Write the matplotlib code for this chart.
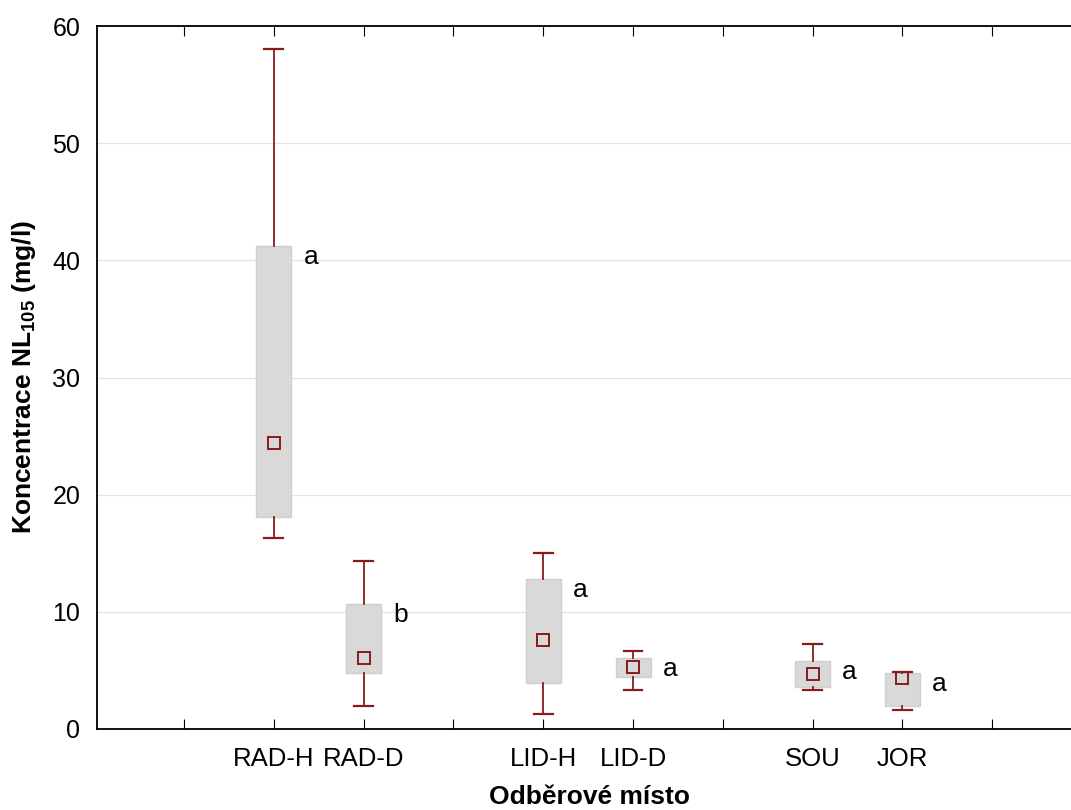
import matplotlib.pyplot as plt

plt.rcParams['font.family'] = ['Liberation Sans', 'DejaVu Sans']
plt.rcParams['mathtext.fontset'] = 'custom'
plt.rcParams['mathtext.bf'] = 'Liberation Sans:bold'
plt.rcParams['mathtext.rm'] = 'Liberation Sans'

# sampling sites and their positions on the x axis
sites = ['RAD-H', 'RAD-D', 'LID-H', 'LID-D', 'SOU', 'JOR']
positions = [2, 3, 5, 6, 8, 9]

# min / 25% / median / 75% / max
mins = [16.3, 2.0, 1.3, 3.3, 3.3, 1.6]
q1 = [18.1, 4.8, 3.9, 4.4, 3.6, 2.0]
medians = [24.4, 6.1, 7.6, 5.3, 4.7, 4.35]
q3 = [41.2, 10.7, 12.8, 6.1, 5.8, 4.8]
maxs = [58.0, 14.3, 15.0, 6.65, 7.25, 4.85]
letters = ['a', 'b', 'a', 'a', 'a', 'a']

red = '#8b1a1a'

fig = plt.figure(figsize=(10.71, 8.10), dpi=100)
ax = fig.add_axes([97 / 1071, 81 / 810, (1082 - 97) / 1071, 703 / 810])

stats = []
for i in range(len(sites)):
    stats.append({'whislo': mins[i], 'q1': q1[i], 'med': medians[i],
                  'q3': q3[i], 'whishi': maxs[i], 'label': sites[i]})

ax.bxp(stats, positions=positions, widths=0.39, capwidths=0.21,
       showfliers=False, patch_artist=True,
       boxprops=dict(facecolor='#d9d9d9', edgecolor='#cfcfcf', linewidth=1),
       whiskerprops=dict(color=red, linewidth=1.3),
       capprops=dict(color=red, linewidth=1.6),
       medianprops=dict(linewidth=0))

# median drawn as a hollow square
ax.plot(positions, medians, linestyle='none', marker='s', markersize=8,
        markerfacecolor='none', markeredgecolor=red, markeredgewidth=1.4, zorder=5)

for p, top, let in zip(positions, q3, letters):
    ax.annotate(let, (p + 0.33, top), xytext=(0, -8), textcoords='offset points',
                ha='left', va='center', fontsize=19)

ax.set_xlim(0.03, 11)
ax.set_ylim(0, 60)
ax.set_yticks(range(0, 61, 10))
ax.set_xticks(range(1, 11))
ax.set_xticklabels(['' if k not in positions else sites[positions.index(k)]
                    for k in range(1, 11)])

ax.yaxis.grid(True, color='#e3e3e3', linewidth=0.9)
ax.set_axisbelow(True)
ax.tick_params(axis='x', direction='in', length=7, top=True, pad=13, labelsize=18.5)
ax.tick_params(axis='y', direction='in', length=0, pad=12, labelsize=18)
for s in ax.spines.values():
    s.set_linewidth(1.3)

ax.set_xlabel('Odběrové místo', fontsize=19, fontweight='bold', labelpad=10)
ax.set_ylabel(r'Koncentrace NL$_{\mathbf{105}}$ (mg/l)', fontsize=19,
              fontweight='bold', labelpad=10)

fig.savefig('out.png', dpi=100)
